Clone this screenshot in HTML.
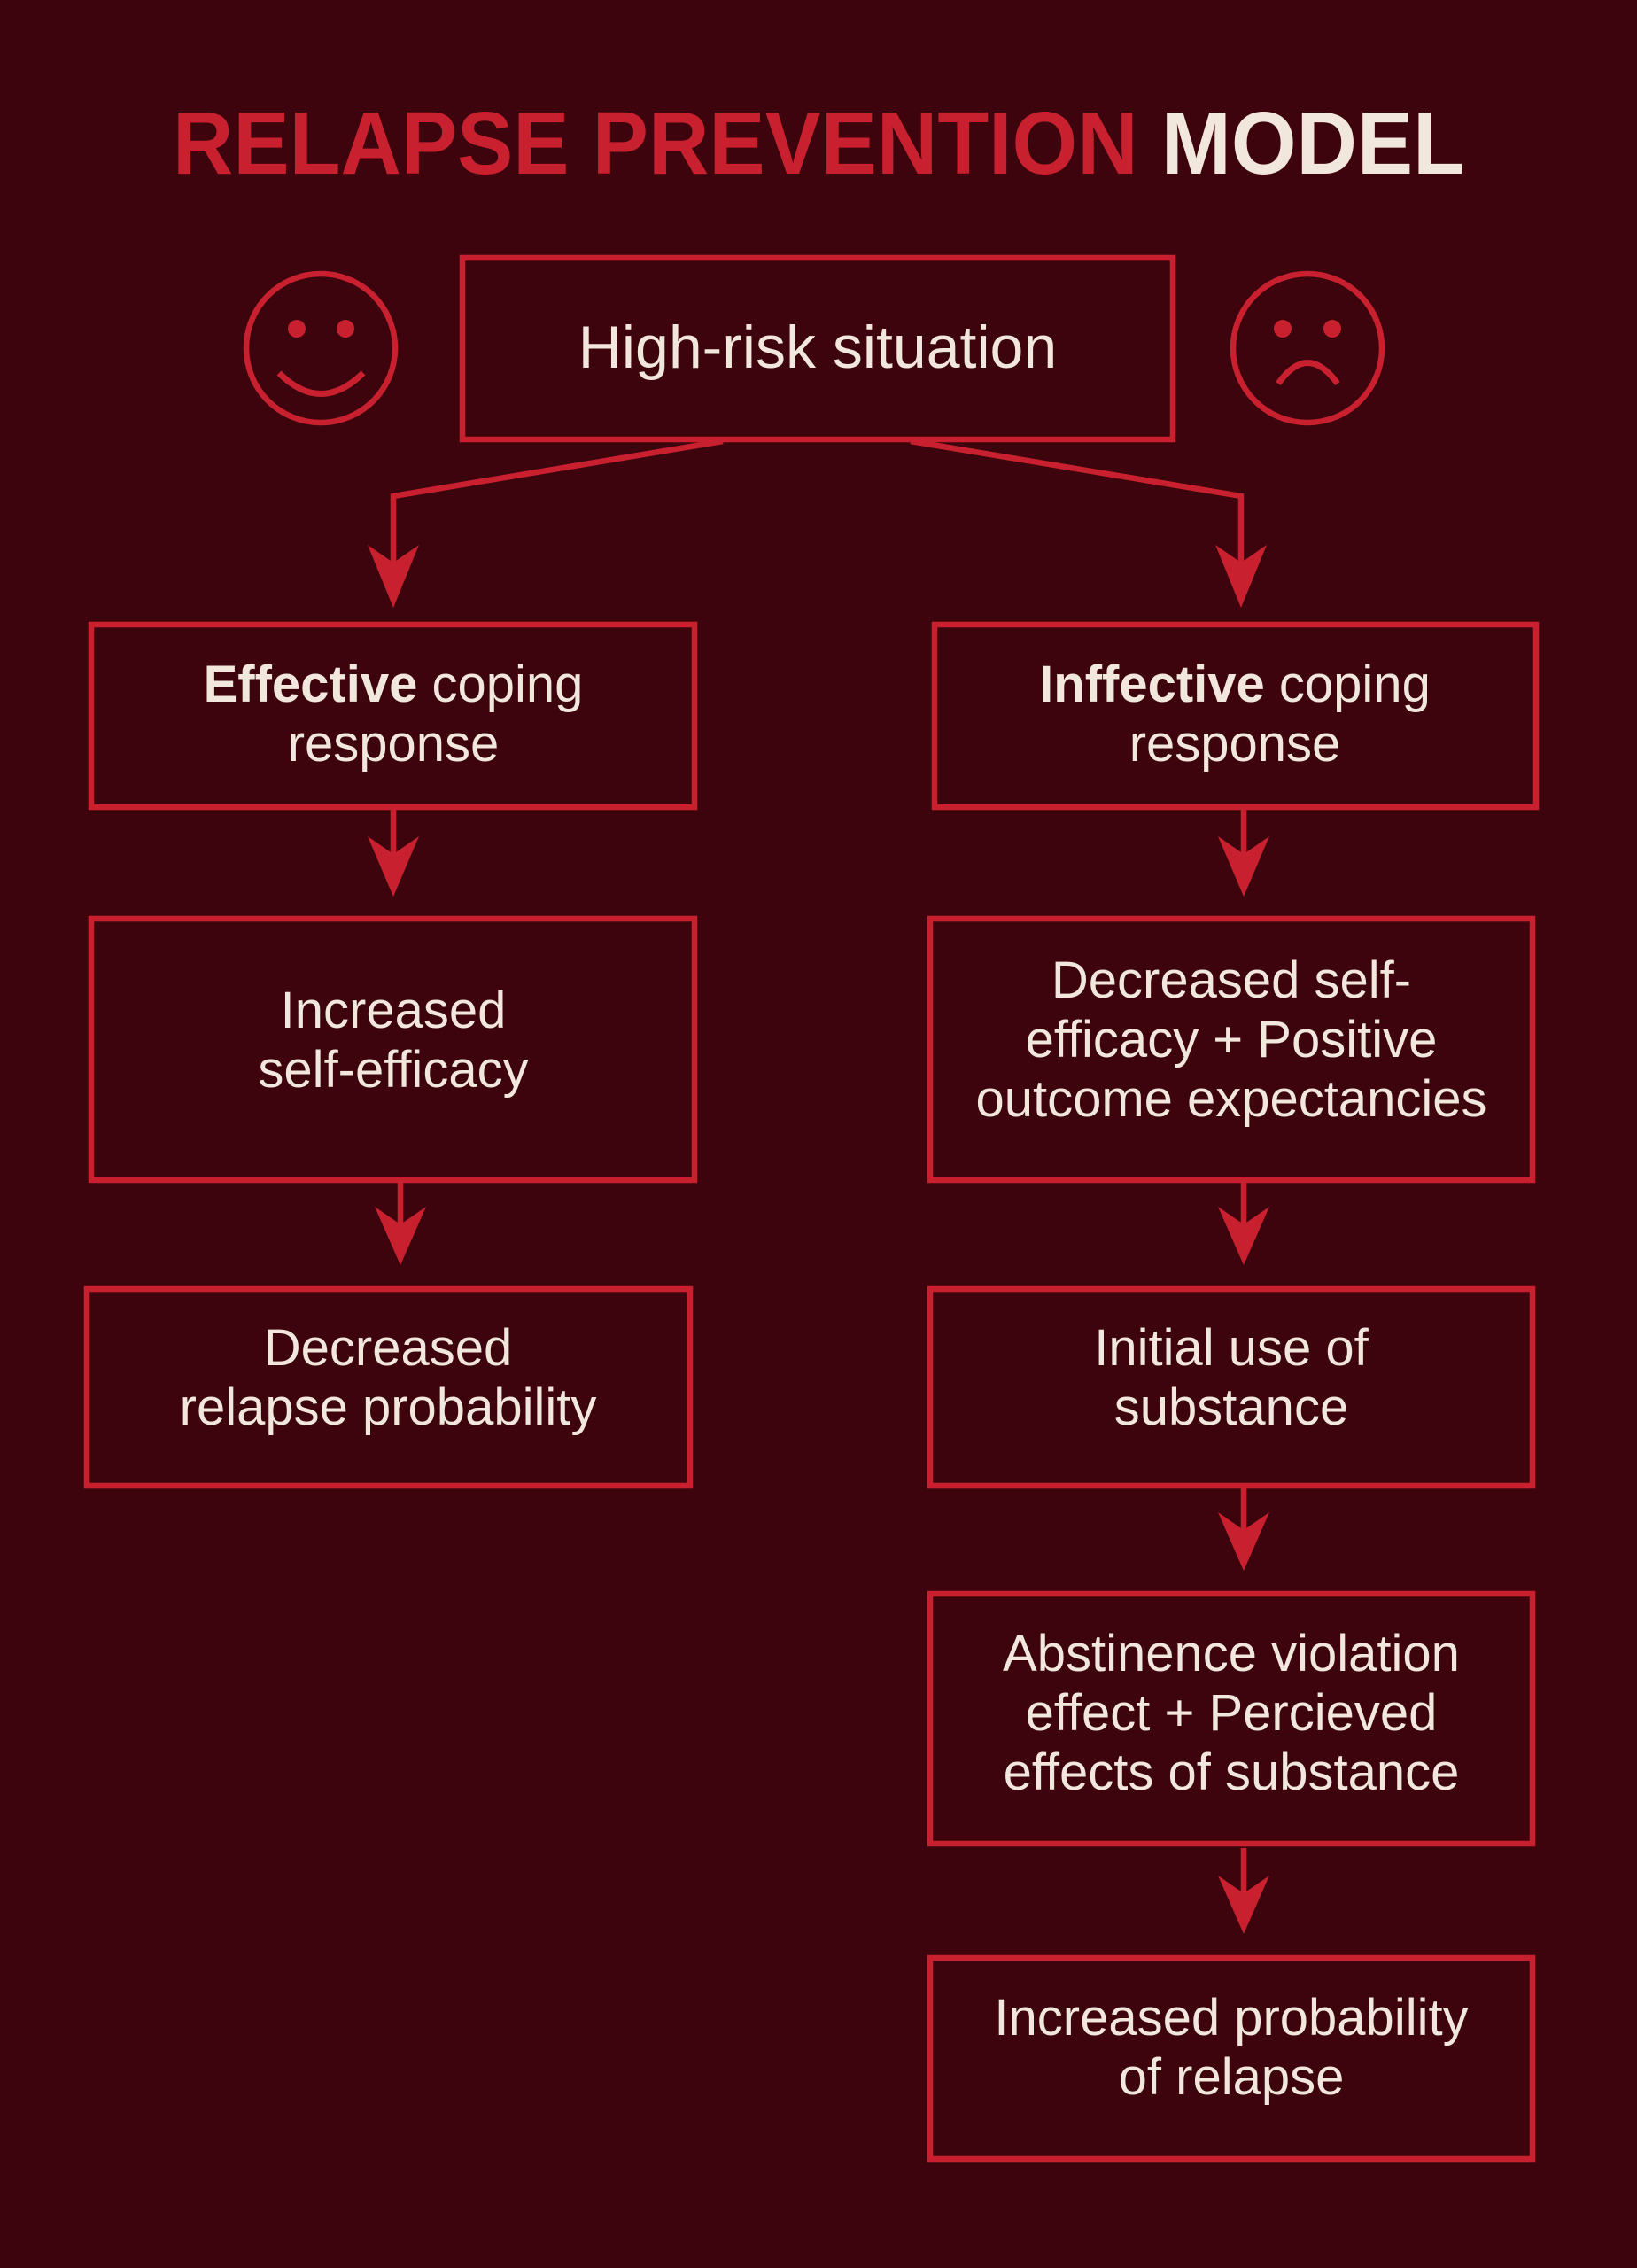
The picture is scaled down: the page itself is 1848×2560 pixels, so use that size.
<!DOCTYPE html>
<html><head><meta charset="utf-8"><style>
html,body{margin:0;padding:0;background:#3d040d;}
svg{display:block}
text{font-family:"Liberation Sans",sans-serif;fill:#f1e7dc}
</style></head><body>
<svg width="1848" height="2560" viewBox="0 0 1848 2560" xmlns="http://www.w3.org/2000/svg">
<rect width="1848" height="2560" fill="#3d040d"/>
<text x="924" y="196" text-anchor="middle" font-size="100" font-weight="bold" textLength="1458" lengthAdjust="spacingAndGlyphs"><tspan style="fill:#c8202f">RELAPSE PREVENTION </tspan><tspan style="fill:#f1e7dc">MODEL</tspan></text>

<g fill="none" stroke="#c8202f" stroke-width="6.5">
<rect x="522" y="291" width="802" height="205"/>
<rect x="103" y="705" width="681" height="206"/>
<rect x="103" y="1037" width="681" height="295"/>
<rect x="98" y="1455" width="681" height="222"/>
<rect x="1055" y="705" width="679" height="206"/>
<rect x="1050" y="1037" width="680" height="295"/>
<rect x="1050" y="1455" width="680" height="222"/>
<rect x="1050" y="1799" width="680" height="282"/>
<rect x="1050" y="2210" width="680" height="227"/>
<circle cx="362" cy="393" r="84"/>
<circle cx="1476" cy="393" r="84"/>
<path d="M315 421 Q362 468 410 421" stroke-width="7"/>
<path d="M1443 433 Q1476 386 1510 433" stroke-width="7"/>
<polyline points="816,498 444,560 444,650"/>
<polyline points="1028,498 1401,560 1401,650"/>
<line x1="444" y1="914" x2="444" y2="980"/>
<line x1="452" y1="1335" x2="452" y2="1396"/>
<line x1="1404" y1="914" x2="1404" y2="980"/>
<line x1="1404" y1="1335" x2="1404" y2="1396"/>
<line x1="1404" y1="1680" x2="1404" y2="1741"/>
<line x1="1404" y1="2086" x2="1404" y2="2151"/>
</g>
<g fill="#c8202f">
<circle cx="335" cy="371" r="10"/><circle cx="390" cy="371" r="10"/>
<circle cx="1448" cy="371" r="10"/><circle cx="1504" cy="371" r="10"/>
<path d="M415 615 L444 635 L473 615 L444 686 Z"/>
<path d="M1372 615 L1401 635 L1430 615 L1401 686 Z"/>
<path d="M415 944 L444 964 L473 944 L444 1012 Z"/>
<path d="M423 1362 L452 1382 L481 1362 L452 1428 Z"/>
<path d="M1375 944 L1404 964 L1433 944 L1404 1012 Z"/>
<path d="M1375 1362 L1404 1382 L1433 1362 L1404 1428 Z"/>
<path d="M1375 1707 L1404 1727 L1433 1707 L1404 1773 Z"/>
<path d="M1375 2117 L1404 2137 L1433 2117 L1404 2183 Z"/>
</g>
<g font-size="58" text-anchor="middle">
<text x="923" y="415" font-size="68">High-risk situation</text>
<text x="444" y="792"><tspan font-weight="bold">Effective</tspan> coping</text>
<text x="444" y="859">response</text>
<text x="444" y="1160">Increased</text>
<text x="444" y="1227">self-efficacy</text>
<text x="438" y="1541">Decreased</text>
<text x="438" y="1608">relapse probability</text>
<text x="1394" y="792"><tspan font-weight="bold">Inffective</tspan> coping</text>
<text x="1394" y="859">response</text>
<text x="1390" y="1126">Decreased self-</text>
<text x="1390" y="1193">efficacy + Positive</text>
<text x="1390" y="1260">outcome expectancies</text>
<text x="1390" y="1541">Initial use of</text>
<text x="1390" y="1608">substance</text>
<text x="1390" y="1886">Abstinence violation</text>
<text x="1390" y="1953">effect + Percieved</text>
<text x="1390" y="2020">effects of substance</text>
<text x="1390" y="2297">Increased probability</text>
<text x="1390" y="2364">of relapse</text>
</g>
</svg>
</body></html>
